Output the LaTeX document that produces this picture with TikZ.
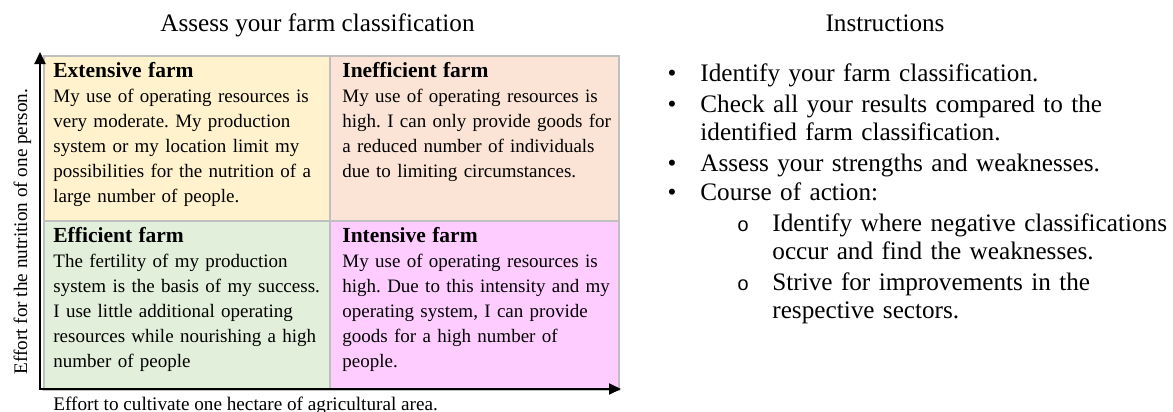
\documentclass[tikz,border=0pt]{standalone}
\usepackage{fontspec}
\setmainfont{Liberation Serif}
\newfontfamily\monofam{Liberation Mono}
\usetikzlibrary{arrows.meta}
\definecolor{tlc}{HTML}{FFF2CC}
\definecolor{trc}{HTML}{FBE4D5}
\definecolor{blc}{HTML}{E2EFDA}
\definecolor{brc}{HTML}{FFCCFF}
\definecolor{cellgrey}{HTML}{BFBFBF}
\frenchspacing
\begin{document}
\begin{tikzpicture}[x=0.5pt,y=-0.5pt,
  cell/.style={draw=cellgrey, line width=1pt, inner sep=0pt, anchor=north west},
  celltext/.style={anchor=base west, inner sep=0pt, text width=150pt, align=left,
    font=\fontsize{9.5pt}{12.5pt}\selectfont},
  headtxt/.style={font=\fontsize{12.6pt}{14pt}\selectfont, inner sep=0pt},
  instr/.style={anchor=base west, inner sep=0pt, text width=220pt, align=left,
    font=\fontsize{12.6pt}{14pt}\selectfont},
  bul/.style={anchor=base, inner sep=0pt, font=\fontsize{12.6pt}{14pt}\selectfont},
  axislbl/.style={inner sep=0pt, font=\fontsize{9.6pt}{12.5pt}\selectfont},
  axis/.style={line width=1pt, {Triangle[length=6pt,width=5.5pt]}-{Triangle[length=6pt,width=5.5pt]}}
]
\useasboundingbox (0,0) rectangle (1173,412);
\newcommand{\hd}[1]{{\fontsize{10.75pt}{12.5pt}\selectfont\bfseries #1}}

% cells
\node[cell, fill=tlc, minimum width=143pt, minimum height=82.5pt] (ext) at (43,55) {};
\node[cell, fill=trc, minimum width=144.5pt, minimum height=82.5pt] (ineff) at (329,55) {};
\node[cell, fill=blc, minimum width=143pt, minimum height=84.5pt] (eff) at (43,220) {};
\node[cell, fill=brc, minimum width=144.5pt, minimum height=84.5pt] (int) at (329,220) {};

% cell texts
\node[celltext] (extT) at (53,77) {\hd{Extensive farm}\\
My use of operating resources is\\
very moderate. My production\\
system or my location limit my\\
possibilities for the nutrition of a\\
large number of people.};
\node[celltext] (ineffT) at (342,77) {\hd{Inefficient farm}\\
My use of operating resources is\\
high. I can only provide goods for\\
a reduced number of individuals\\
due to limiting circumstances.};
\node[celltext] (effT) at (53,242) {\hd{Efficient farm}\\
The fertility of my production\\
system is the basis of my success.\\
I use little additional operating\\
resources while nourishing a high\\
number of people};
\node[celltext] (intT) at (342,242) {\hd{Intensive farm}\\
My use of operating resources is\\
high. Due to this intensity and my\\
operating system, I can provide\\
goods for a high number of\\
people.};

% axes
\coordinate (o) at (40,389);
\coordinate (ytip) at (40,52);
\coordinate (xtip) at (621,389);
\draw[axis] (ytip) -- (o) -- (xtip);
\node[axislbl, anchor=base west] (xlbl) at (53,410) {Effort to cultivate one hectare of agricultural area.};
\node[axislbl, anchor=base west, rotate=90] (ylbl) at (27,375) {Effort for the nutrition of one person.};

% titles
\node[headtxt, anchor=base west] (title) at (160,32) {Assess your farm classification};
\node[headtxt, anchor=base] (instrT) at (885,32) {Instructions};

% instructions
\node[bul] (b1) at (672,81) {•};
\node[instr] (i1) at (700,81) {Identify your farm classification.};
\node[bul] (b2) at (672,112) {•};
\node[instr] (i2) at (700,112) {Check all your results compared to the\\identified farm classification.};
\node[bul] (b3) at (672,171) {•};
\node[instr] (i3) at (700,171) {Assess your strengths and weaknesses.};
\node[bul] (b4) at (672,200) {•};
\node[instr] (i4) at (700,200) {Course of action:};
\node[bul, font=\monofam\fontsize{10pt}{14pt}\selectfont] (sb1) at (743,231) {o};
\node[instr] (s1) at (772,231) {Identify where negative classifications\\occur and find the weaknesses.};
\node[bul, font=\monofam\fontsize{10pt}{14pt}\selectfont] (sb2) at (743,290) {o};
\node[instr] (s2) at (772,290) {Strive for improvements in the\\respective sectors.};
\end{tikzpicture}
\end{document}
